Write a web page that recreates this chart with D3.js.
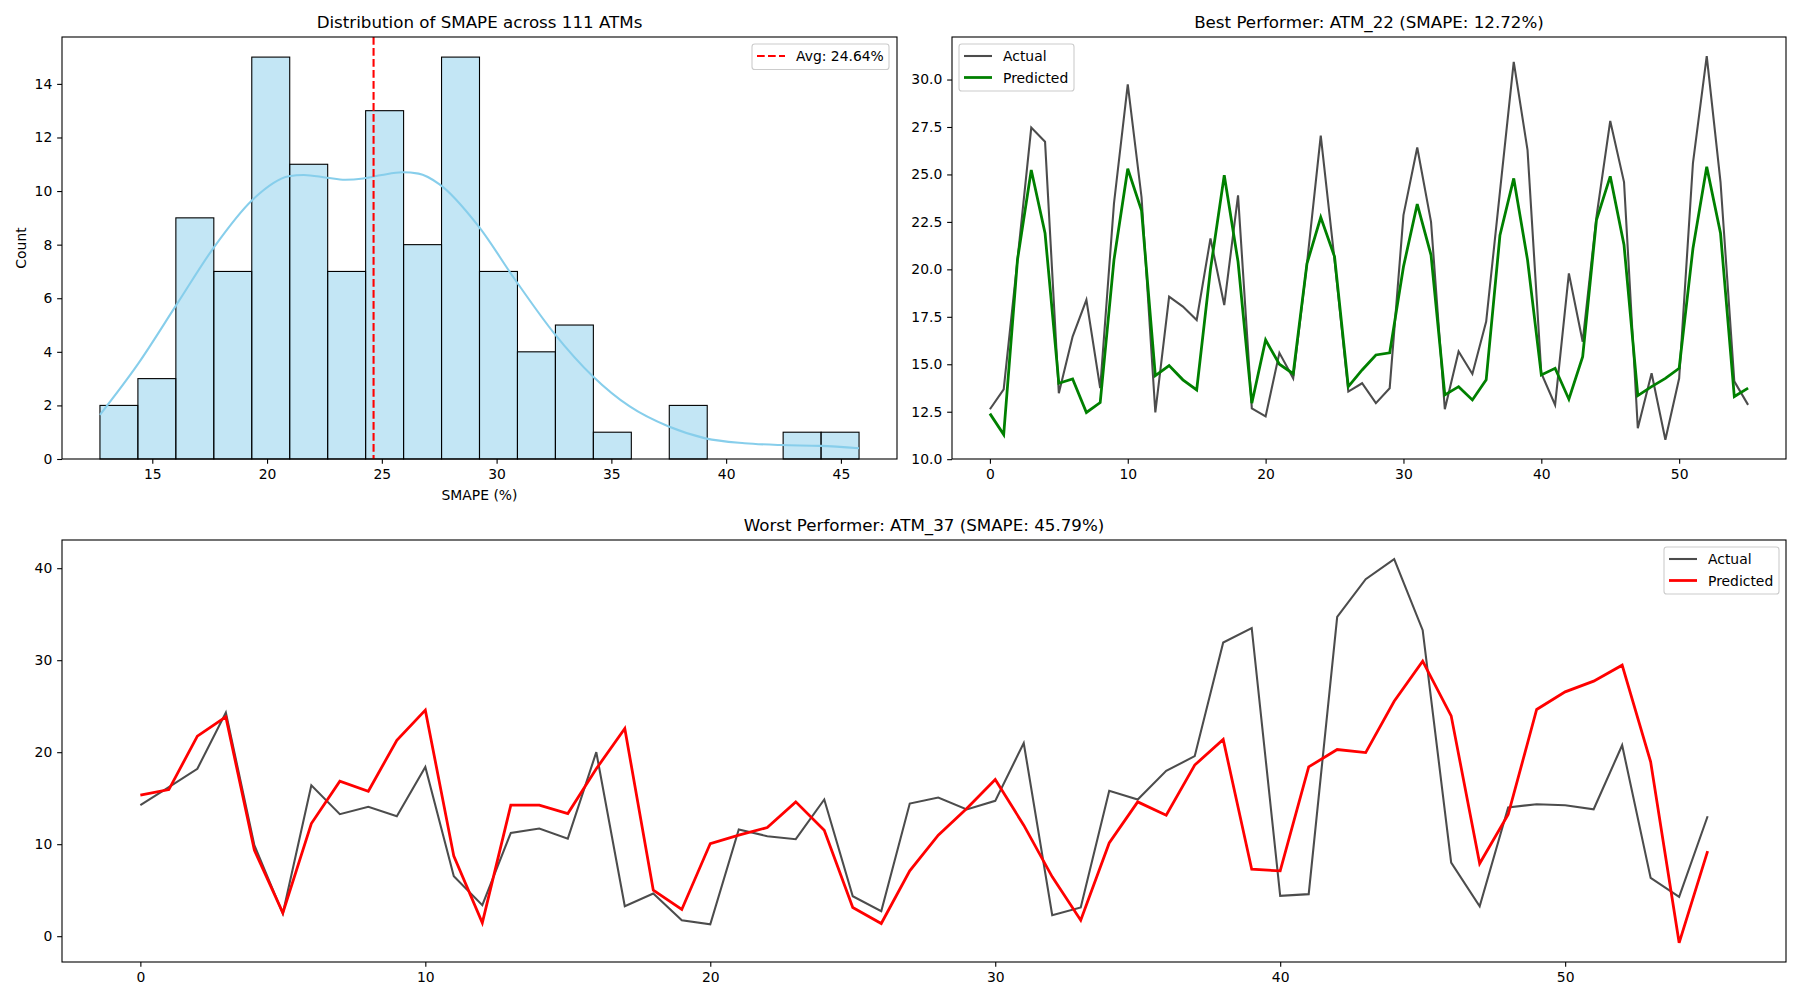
<!DOCTYPE html>
<html>
<head>
<meta charset="utf-8">
<script src="https://cdn.jsdelivr.net/npm/d3@7"></script>
<style>
  html, body { margin: 0; padding: 0; background: #fff; }
  svg { display: block; font-family: "DejaVu Sans", sans-serif; }
</style>
</head>
<body>
<svg id="chart" width="1800" height="1000"></svg>
<script>
// ---------------- DATA ----------------
// Histogram of SMAPE across 111 ATMs (20 bins from min to max)
const smapeMin = 12.72;
const smapeMax = 45.79;
const binCounts = [2, 3, 9, 7, 15, 11, 7, 13, 8, 15, 7, 4, 5, 1, 0, 2, 0, 0, 1, 1];
const avgSmape = 24.64;
// KDE curve (x in SMAPE %, y in counts)
const kdeX = [12.72, 14.38, 16.05, 17.7, 19.35, 20.95, 21.6, 22.6, 23.4, 24.2, 25.0, 25.9, 26.6, 27.5, 29.2, 30.8, 32.5, 34.2, 35.8, 37.5, 39.1, 40.8, 42.4, 44.1, 45.79];
const kdeY = [1.65, 3.55, 5.75, 7.92, 9.66, 10.55, 10.6, 10.5, 10.42, 10.47, 10.6, 10.7, 10.65, 10.26, 8.7, 6.7, 4.7, 3.08, 1.96, 1.21, 0.77, 0.59, 0.52, 0.49, 0.40];
const histXTicks = [15, 20, 25, 30, 35, 40, 45];
const histYTicks = [0, 2, 4, 6, 8, 10, 12, 14];

// Best performer ATM_22
const bestActual = [12.63, 13.68, 20.5, 27.47, 26.72, 13.47, 16.46, 18.39, 13.74, 23.47,
  29.75, 23.8, 12.46, 18.56, 18.04, 17.33, 21.63, 18.12, 23.9, 12.68,
  12.25, 15.6, 14.26, 20.3, 27.04, 20.5, 13.56, 14.0, 12.95, 13.74,
  22.86, 26.42, 22.5, 12.63, 15.67, 14.49, 17.25, 24.1, 30.93, 26.28,
  14.53, 12.86, 19.79, 16.19, 22.77, 27.82, 24.6, 11.63, 14.53, 11.02,
  14.26, 25.6, 31.23, 24.6, 14.1, 12.86];
const bestPredicted = [12.4, 11.3, 20.5, 25.23, 21.9, 14.0, 14.23, 12.46, 12.98, 20.5,
  25.3, 23.1, 14.4, 14.93, 14.18, 13.65, 20.0, 24.96, 20.4, 12.95,
  16.28, 15.0, 14.5, 20.3, 22.74, 20.67, 13.82, 14.7, 15.49, 15.6,
  20.14, 23.44, 20.75, 13.39, 13.82, 13.12, 14.18, 21.8, 24.79, 20.5,
  14.44, 14.79, 13.16, 15.4, 22.6, 24.9, 21.28, 13.35, 13.82, 14.26,
  14.79, 21.1, 25.4, 21.9, 13.3, 13.74];
const bestYTicks = [10.0, 12.5, 15.0, 17.5, 20.0, 22.5, 25.0, 27.5, 30.0];
const seriesXTicks = [0, 10, 20, 30, 40, 50];

// Worst performer ATM_37
const worstActual = [14.24, 16.2, 18.2, 24.3, 9.9, 2.46, 16.4, 13.26, 14.06, 13.04,
  18.4, 6.52, 3.37, 11.23, 11.7, 10.6, 20.0, 3.26, 4.64, 1.74,
  1.3, 11.59, 10.87, 10.54, 14.86, 4.35, 2.72, 14.42, 15.07, 13.77,
  14.71, 21.0, 2.28, 3.12, 15.8, 14.86, 17.97, 19.57, 31.92, 33.5,
  4.38, 4.57, 34.7, 38.8, 40.98, 33.26, 8.0, 3.26, 13.99, 14.35,
  14.24, 13.8, 20.76, 6.34, 4.28, 13.04];
const worstPredicted = [15.33, 15.94, 21.74, 23.84, 9.35, 2.54, 12.25, 16.85, 15.76, 21.3,
  24.57, 8.7, 1.45, 14.24, 14.24, 13.33, 18.2, 22.57, 5.0, 2.9,
  10.07, 10.98, 11.81, 14.6, 11.52, 3.12, 1.38, 7.1, 10.98, 13.88,
  17.03, 12.07, 6.45, 1.74, 10.14, 14.6, 13.15, 18.6, 21.38, 7.28,
  7.1, 18.4, 20.29, 19.96, 25.54, 29.89, 23.95, 7.9, 13.22, 24.64,
  26.56, 27.72, 29.46, 18.95, -0.72, 9.24];
const worstYTicks = [0, 10, 20, 30, 40];

const titles = [
  "Distribution of SMAPE across 111 ATMs",
  "Best Performer: ATM_22 (SMAPE: 12.72%)",
  "Worst Performer: ATM_37 (SMAPE: 45.79%)"
];

// ---------------- STYLE ----------------
const FONT = 13.9, TITLE_FONT = 16.7;
const TICK_LEN = 4.86, TICK_PAD = 4.86, SPINE_W = 1.1;
const actualColor = "rgba(0,0,0,0.7)";

const svg = d3.select("#chart");

function padDomain(lo, hi) {
  const m = (hi - lo) * 0.05;
  return [lo - m, hi + m];
}

function drawFrame(g, box, x, y, xticks, yticks, yfmt, title) {
  const xa = d3.axisBottom(x).tickValues(xticks).tickSize(TICK_LEN).tickPadding(TICK_PAD)
    .tickFormat(d3.format("d"));
  const gx = g.append("g").attr("transform", `translate(0,${box.b})`).call(xa);
  const ya = d3.axisLeft(y).tickValues(yticks).tickSize(TICK_LEN).tickPadding(TICK_PAD)
    .tickFormat(yfmt);
  const gy = g.append("g").attr("transform", `translate(${box.l},0)`).call(ya);
  [gx, gy].forEach(a => {
    a.select(".domain").remove();
    a.selectAll(".tick line").attr("stroke", "#000").attr("stroke-width", SPINE_W);
    a.selectAll(".tick text").attr("fill", "#000").style("font-size", FONT + "px")
      .style("font-family", "DejaVu Sans");
  });
  gx.selectAll(".tick text").attr("dy", "0.76em");
  g.append("rect").attr("x", box.l).attr("y", box.t)
    .attr("width", box.r - box.l).attr("height", box.b - box.t)
    .attr("fill", "none").attr("stroke", "#000").attr("stroke-width", SPINE_W);
  g.append("text").attr("x", (box.l + box.r) / 2).attr("y", box.t - 9)
    .attr("text-anchor", "middle").style("font-size", TITLE_FONT + "px").text(title);
}

function drawLegend(g, x0, y0, w, items) {
  const rowH = 21.5;
  const h = 8 + items.length * rowH - 4;
  g.append("rect").attr("x", x0).attr("y", y0).attr("width", w).attr("height", h)
    .attr("rx", 2.8).attr("fill", "#fff").attr("fill-opacity", 0.8)
    .attr("stroke", "#cccccc").attr("stroke-width", 1.1);
  items.forEach((it, i) => {
    const cy = y0 + 12 + i * rowH;
    g.append("line").attr("x1", x0 + 5).attr("x2", x0 + 33).attr("y1", cy).attr("y2", cy)
      .attr("stroke", it.color).attr("stroke-width", it.width)
      .attr("stroke-dasharray", it.dash || null);
    g.append("text").attr("x", x0 + 44).attr("y", cy + 5)
      .style("font-size", FONT + "px").text(it.label);
  });
}

// ---------------- PANEL 1: histogram ----------------
{
  const box = { l: 62, r: 897, t: 37, b: 459 };
  const g = svg.append("g");
  const x = d3.scaleLinear().domain(padDomain(smapeMin, smapeMax)).range([box.l, box.r]);
  const y = d3.scaleLinear().domain([0, d3.max(binCounts) * 1.05]).range([box.b, box.t]);
  const bw = (smapeMax - smapeMin) / binCounts.length;
  const bins = binCounts.map((c, i) => ({ x0: smapeMin + i * bw, x1: smapeMin + (i + 1) * bw, c }));
  g.selectAll("rect.bar").data(bins.filter(d => d.c > 0)).join("rect").attr("class", "bar")
    .attr("x", d => x(d.x0)).attr("width", d => x(d.x1) - x(d.x0))
    .attr("y", d => y(d.c)).attr("height", d => y(0) - y(d.c))
    .attr("fill", "#87ceeb").attr("fill-opacity", 0.5)
    .attr("stroke", "#000").attr("stroke-width", 1.1);
  const kde = kdeX.map((v, i) => [v, kdeY[i]]);
  g.append("path").datum(kde)
    .attr("d", d3.line().x(d => x(d[0])).y(d => y(d[1])).curve(d3.curveMonotoneX))
    .attr("fill", "none").attr("stroke", "#87ceeb").attr("stroke-width", 2.08);
  g.append("line").attr("x1", x(avgSmape)).attr("x2", x(avgSmape))
    .attr("y1", box.t).attr("y2", box.b)
    .attr("stroke", "red").attr("stroke-width", 2.08).attr("stroke-dasharray", "7.7,3.3");
  drawFrame(g, box, x, y, histXTicks, histYTicks, d3.format("d"), titles[0]);
  g.append("text").attr("x", (box.l + box.r) / 2).attr("y", 500)
    .attr("text-anchor", "middle").style("font-size", FONT + "px").text("SMAPE (%)");
  g.append("text").attr("transform", `translate(26,${(box.t + box.b) / 2}) rotate(-90)`)
    .attr("text-anchor", "middle").style("font-size", FONT + "px").text("Count");
  drawLegend(g, box.r - 145, box.t + 7, 137,
    [{ color: "red", width: 2.08, dash: "7.7,3.3", label: "Avg: " + avgSmape.toFixed(2) + "%" }]);
}

// ---------------- PANEL 2: best performer ----------------
{
  const box = { l: 952, r: 1786, t: 37, b: 459 };
  const g = svg.append("g");
  const n = bestActual.length;
  const x = d3.scaleLinear().domain(padDomain(0, n - 1)).range([box.l, box.r]);
  const all = bestActual.concat(bestPredicted);
  const y = d3.scaleLinear().domain(padDomain(d3.min(all), d3.max(all))).range([box.b, box.t]);
  const line = d3.line().x((d, i) => x(i)).y(d => y(d));
  g.append("path").datum(bestActual).attr("d", line).attr("fill", "none")
    .attr("stroke", actualColor).attr("stroke-width", 2.08);
  g.append("path").datum(bestPredicted).attr("d", line).attr("fill", "none")
    .attr("stroke", "green").attr("stroke-width", 2.78);
  drawFrame(g, box, x, y, seriesXTicks, bestYTicks, d3.format(".1f"), titles[1]);
  drawLegend(g, box.l + 7, box.t + 7, 115, [
    { color: actualColor, width: 2.08, label: "Actual" },
    { color: "green", width: 2.78, label: "Predicted" }
  ]);
}

// ---------------- PANEL 3: worst performer ----------------
{
  const box = { l: 62, r: 1786, t: 540, b: 962 };
  const g = svg.append("g");
  const n = worstActual.length;
  const x = d3.scaleLinear().domain(padDomain(0, n - 1)).range([box.l, box.r]);
  const all = worstActual.concat(worstPredicted);
  const y = d3.scaleLinear().domain(padDomain(d3.min(all), d3.max(all))).range([box.b, box.t]);
  const line = d3.line().x((d, i) => x(i)).y(d => y(d));
  g.append("path").datum(worstActual).attr("d", line).attr("fill", "none")
    .attr("stroke", actualColor).attr("stroke-width", 2.08);
  g.append("path").datum(worstPredicted).attr("d", line).attr("fill", "none")
    .attr("stroke", "red").attr("stroke-width", 2.78);
  drawFrame(g, box, x, y, seriesXTicks, worstYTicks, d3.format("d"), titles[2]);
  drawLegend(g, box.r - 122, box.t + 7, 115, [
    { color: actualColor, width: 2.08, label: "Actual" },
    { color: "red", width: 2.78, label: "Predicted" }
  ]);
}
</script>
</body>
</html>
